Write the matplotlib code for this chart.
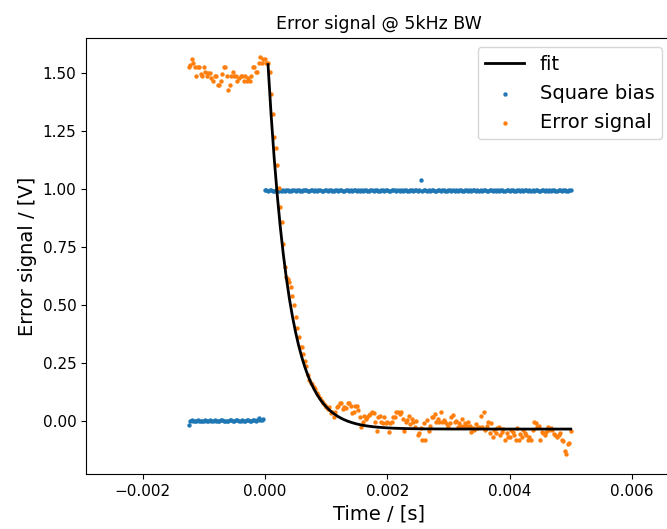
import numpy as np
import matplotlib
matplotlib.use("Agg")
import matplotlib.pyplot as plt

# sampling grid: 25 us steps from -1.25 ms to 5 ms
t_start = -0.00125
dt = 0.000025

# error signal before the step (50 samples)
err_pre = [
    1.527, 1.534, 1.560, 1.545, 1.527, 1.487, 1.527, 1.527, 1.496, 1.487,
    1.527, 1.506, 1.487, 1.499, 1.499, 1.477, 1.467, 1.487, 1.487, 1.448,
    1.448, 1.467, 1.496, 1.527, 1.524, 1.487, 1.427, 1.448, 1.487, 1.506,
    1.487, 1.487, 1.467, 1.477, 1.487, 1.487, 1.467, 1.487, 1.467, 1.477,
    1.467, 1.487, 1.524, 1.527, 1.506, 1.506, 1.545, 1.567, 1.545, 1.560,
]

# error signal from t = 0 on (201 samples)
err_post = [
    1.560, 1.545, 1.545, 1.506, 1.409, 1.323, 1.225, 1.175, 1.103, 1.003,
    0.924, 0.856, 0.763, 0.665, 0.622, 0.610, 0.600, 0.579, 0.540, 0.500,
    0.450, 0.400, 0.360, 0.320, 0.318, 0.290, 0.260, 0.237, 0.200, 0.177,
    0.162, 0.159, 0.148, 0.137, 0.119, 0.110, 0.098, 0.088, 0.079, 0.070,
    0.062, 0.050, 0.062, 0.033, 0.040, 0.019, 0.040, 0.058, 0.065, 0.076,
    0.079, 0.050, 0.062, 0.055, 0.076, 0.079, 0.065, 0.036, 0.040, 0.065,
    0.065, 0.048, 0.019, -0.025, -0.003, 0.022, 0.010, 0.019, 0.025, 0.030,
    0.040, 0.035, -0.003, -0.042, 0.019, 0.022, -0.003, -0.010, 0.019, -0.010,
    -0.003, -0.046, -0.010, -0.003, 0.019, 0.019, 0.040, 0.040, 0.030, 0.040,
    0.010, -0.042, -0.003, 0.005, 0.022, -0.015, 0.010, -0.003, -0.025, 0.000,
    -0.060, -0.053, -0.030, -0.082, -0.010, -0.082, 0.005, -0.042, -0.020, 0.019,
    0.019, 0.030, -0.003, 0.010, -0.003, 0.040, -0.003, 0.005, -0.003, -0.015,
    -0.027, -0.010, 0.019, 0.025, -0.003, 0.000, -0.025, -0.010, -0.022, 0.010,
    -0.022, -0.010, -0.022, -0.005, -0.022, -0.046, -0.030, -0.039, -0.015, -0.030,
    -0.027, 0.020, -0.027, 0.040, -0.039, -0.020, -0.003, -0.050, -0.010, -0.068,
    -0.040, -0.053, -0.030, -0.025, -0.060, -0.046, -0.035, -0.082, -0.050, -0.068,
    -0.068, -0.040, -0.046, -0.060, -0.082, -0.030, -0.082, -0.055, -0.068, -0.040,
    -0.053, -0.060, -0.082, -0.070, -0.082, -0.040, -0.003, -0.010, -0.025, -0.020,
    -0.082, -0.046, -0.050, -0.060, -0.046, -0.025, -0.039, -0.030, -0.039, -0.056,
    -0.060, -0.068, -0.060, -0.053, -0.082, -0.085, -0.129, -0.142, -0.099, -0.094,
    -0.042,
]

# square bias before the step (50 samples)
bias_pre = [
    -0.017, 0.000, 0.002, 0.001, -0.001, 0.000, 0.002, 0.001, -0.002, 0.000,
    0.001, 0.003, 0.000, -0.001, 0.002, 0.001, 0.000, 0.003, 0.001, -0.001,
    0.000, 0.002, 0.004, 0.001, 0.000, -0.002, 0.001, 0.003, 0.002, 0.000,
    0.001, 0.004, 0.002, 0.000, 0.001, 0.003, 0.001, -0.001, 0.002, 0.004,
    0.001, 0.000, 0.002, 0.003, 0.001, 0.002, 0.012, 0.004, 0.002, 0.010,
]

# square bias from t = 0 on (201 samples)
bias_post = [
    0.996, 0.994, 0.992, 0.995, 0.997, 0.993, 0.991, 0.994, 0.996, 0.993,
    0.994, 0.992, 0.995, 0.993, 0.994, 0.996, 0.992, 0.993, 0.995, 0.994,
    0.993, 0.996, 0.994, 0.992, 0.993, 0.995, 0.997, 0.994, 0.992, 0.993,
    0.995, 0.994, 0.993, 0.996, 0.992, 0.994, 0.995, 0.993, 0.991, 0.994,
    0.996, 0.993, 0.994, 0.995, 0.992, 0.993, 0.997, 0.994, 0.993, 0.995,
    0.994, 0.992, 0.993, 0.996, 0.994, 0.993, 0.995, 0.992, 0.994, 0.996,
    0.993, 0.994, 0.992, 0.995, 0.993, 0.994, 0.997, 0.993, 0.992, 0.994,
    0.995, 0.993, 0.994, 0.996, 0.992, 0.993, 0.995, 0.994, 0.993, 0.996,
    0.994, 0.992, 0.993, 0.995, 0.994, 0.997, 0.993, 0.994, 0.992, 0.995,
    0.993, 0.994, 0.996, 0.993, 0.992, 0.994, 0.995, 0.993, 0.994, 0.996,
    0.992, 0.994, 1.039, 0.993, 0.995, 0.994, 0.992, 0.996, 0.993, 0.994,
    0.995, 0.993, 0.992, 0.994, 0.996, 0.993, 0.994, 0.995, 0.992, 0.993,
    0.996, 0.994, 0.993, 0.995, 0.992, 0.994, 0.993, 0.996, 0.994, 0.992,
    0.993, 0.995, 0.994, 0.993, 0.996, 0.992, 0.994, 0.995, 0.993, 0.994,
    0.992, 0.996, 0.993, 0.994, 0.995, 0.992, 0.993, 0.994, 0.996, 0.993,
    0.994, 0.992, 0.995, 0.993, 0.994, 0.996, 0.992, 0.993, 0.995, 0.994,
    0.993, 0.996, 0.994, 0.992, 0.993, 0.995, 0.994, 0.993, 0.996, 0.992,
    0.994, 0.995, 0.993, 0.994, 0.992, 0.996, 0.993, 0.994, 0.995, 0.992,
    0.993, 0.994, 0.996, 0.993, 0.994, 0.992, 0.995, 0.993, 0.994, 0.996,
    0.992, 0.993, 0.995, 0.994, 0.993, 0.996, 0.994, 0.992, 0.993, 0.995,
    0.994,
]

# exponential fit parameters
fit_amp = 1.82
fit_tau = 0.00034
fit_offset = -0.035

err = np.array(err_pre + err_post)
bias = np.array(bias_pre + bias_post)
t = t_start + dt * np.arange(len(err))
t_fit = t[len(err_pre) + 2:]
y_fit = fit_amp * np.exp(-t_fit / fit_tau) + fit_offset

fig = plt.figure(figsize=(6.67, 5.29), dpi=100)
ax = fig.add_axes([0.1289, 0.1034, 0.8786, 0.8253])

ax.plot(t_fit, y_fit, color="black", lw=2, label="fit")
ax.scatter(t, bias, s=10, color="#1f77b4", linewidths=0, label="Square bias")
ax.scatter(t, err, s=10, color="#ff7f0e", linewidths=0, label="Error signal")

ax.set_xlim(-0.002927, 0.006656)
ax.set_ylim(-0.230, 1.652)
ax.set_xticks([-0.002, 0.0, 0.002, 0.004, 0.006])
ax.set_yticks([0.0, 0.25, 0.5, 0.75, 1.0, 1.25, 1.5])
ax.tick_params(labelsize=11)

ax.set_title("Error signal @ 5kHz BW", fontsize=12.5)
ax.set_xlabel("Time / [s]", fontsize=14)
ax.set_ylabel("Error signal / [V]", fontsize=14)
ax.legend(loc="upper right", fontsize=14)

fig.savefig("out.png", dpi=100)
